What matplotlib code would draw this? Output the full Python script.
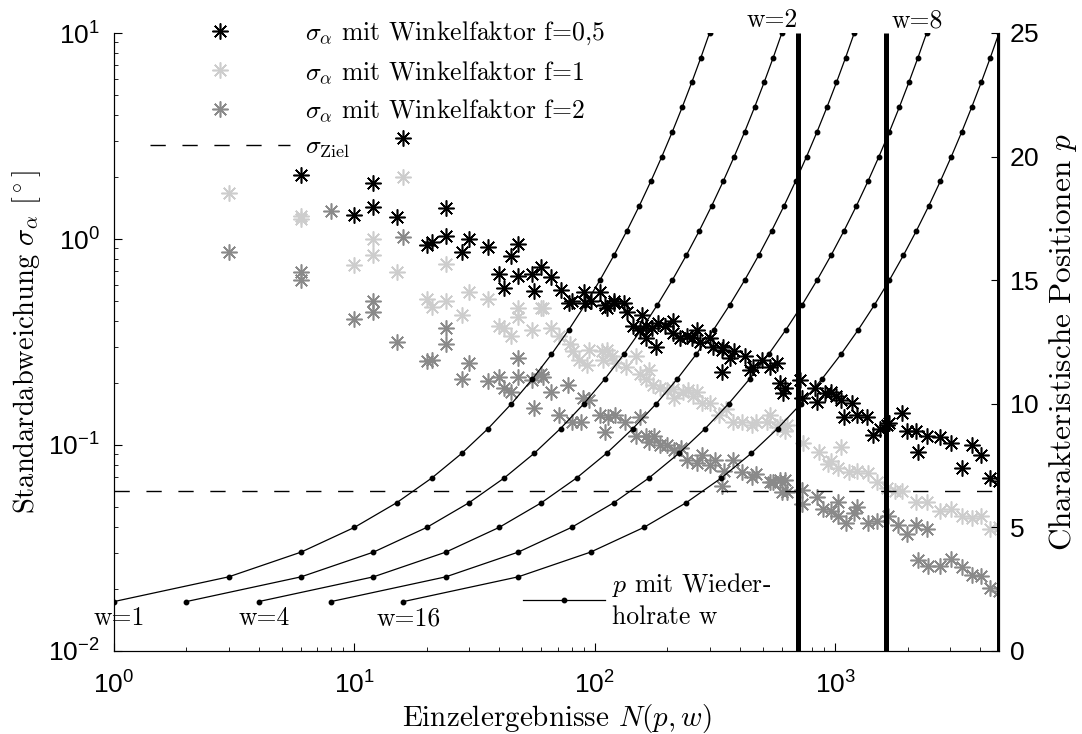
import matplotlib
matplotlib.use('Agg')

import matplotlib.pyplot as plt
import numpy as np

plt.rcParams['font.family'] = 'cmr10'
plt.rcParams['mathtext.fontset'] = 'cm'
plt.rcParams['axes.unicode_minus'] = False
plt.rcParams['axes.formatter.use_mathtext'] = True

# characteristic positions p and pairs of positions for w = 1
positions = list(range(2, 26))
pairs = [1, 3, 6, 10, 15, 21, 28, 36, 45, 55, 66, 78, 91, 105, 120, 136,
         153, 171, 190, 210, 231, 253, 276, 300]
reps = [1, 2, 4, 8, 16]
reps_low = [1, 4, 16]      # labelled at the start of the curve
reps_high = [2, 8]         # labelled at the end of the curve

limits = [700, 1630, 4800]  # thick vertical lines
sigma_goal = 0.06

# sigma_alpha, winkelfaktor f=0.5
bx = [6, 10, 12, 12, 15, 16, 20, 21, 24, 24, 28, 30, 36, 40, 42, 45, 48, 48,
      55, 56, 60, 66, 72, 78, 80, 90, 91, 96, 105, 110, 112, 120, 120, 132,
      136, 144, 154, 157, 164, 164, 173, 180, 183, 195, 211, 211, 226, 241,
      253, 266, 273, 301, 309, 337, 337, 340, 364, 380, 420, 441, 454, 495,
      534, 571, 588, 605, 617, 711, 725, 822, 837, 904, 960, 1010, 1060,
      1090, 1170, 1230, 1350, 1440, 1540, 1640, 1680, 1900, 1980, 2170,
      2200, 2410, 2720, 3040, 3360, 3700, 4040, 4420, 4800]
by = [2.05, 1.31, 1.87, 1.43, 1.28, 3.1, 0.94, 0.97, 1.41, 1.03, 0.86, 1.0,
      0.91, 0.675, 0.58, 0.83, 0.95, 0.66, 0.675, 0.56, 0.73, 0.655, 0.565,
      0.49, 0.5, 0.55, 0.49, 0.5, 0.55, 0.48, 0.46, 0.5, 0.49, 0.49, 0.44,
      0.38, 0.36, 0.43, 0.38, 0.33, 0.37, 0.3, 0.39, 0.38, 0.40, 0.35, 0.33,
      0.34, 0.33, 0.36, 0.318, 0.33, 0.30, 0.29, 0.226, 0.30, 0.264, 0.285,
      0.27, 0.23, 0.24, 0.26, 0.24, 0.25, 0.2, 0.179, 0.19, 0.207, 0.169,
      0.19, 0.162, 0.179, 0.181, 0.173, 0.165, 0.137, 0.16, 0.14, 0.137,
      0.112, 0.12, 0.125, 0.128, 0.143, 0.117, 0.117, 0.092, 0.11, 0.109,
      0.102, 0.077, 0.1, 0.089, 0.069, 0.067]

# sigma_alpha, winkelfaktor f=1
lx = [3, 6, 6, 10, 12, 12, 15, 16, 20, 21, 24, 24, 28, 30, 36, 40, 42, 45,
      48, 48, 55, 60, 61, 66, 71, 79, 81, 86, 93, 95, 107, 108, 112, 118,
      123, 135, 149, 154, 164, 168, 174, 186, 200, 211, 214, 232, 243, 256,
      265, 280, 300, 330, 350, 375, 410, 450, 470, 520, 534, 571, 590, 617,
      630, 735, 860, 930, 960, 1030, 1060, 1140, 1230, 1370, 1490, 1640,
      1780, 1900, 2170, 2410, 2720, 3040, 3360, 3700, 4040, 4420, 4800]
ly = [1.67, 1.3, 1.25, 0.75, 1.0, 0.835, 0.69, 2.0, 0.51, 0.47, 0.76, 0.5,
      0.43, 0.55, 0.51, 0.38, 0.37, 0.34, 0.46, 0.42, 0.36, 0.46, 0.46,
      0.37, 0.34, 0.31, 0.285, 0.26, 0.245, 0.29, 0.285, 0.26, 0.29, 0.27,
      0.25, 0.24, 0.27, 0.22, 0.21, 0.23, 0.195, 0.19, 0.185, 0.186, 0.17,
      0.18, 0.185, 0.173, 0.18, 0.16, 0.16, 0.14, 0.15, 0.13, 0.13, 0.125,
      0.13, 0.13, 0.14, 0.122, 0.126, 0.117, 0.125, 0.102, 0.092, 0.081,
      0.084, 0.077, 0.098, 0.074, 0.075, 0.073, 0.066, 0.062, 0.06, 0.06,
      0.053, 0.053, 0.048, 0.049, 0.045, 0.044, 0.045, 0.039, 0.04]

# sigma_alpha, winkelfaktor f=2
gx = [3, 6, 6, 8, 10, 12, 12, 15, 16, 20, 21, 24, 24, 28, 30, 36, 40, 42,
      45, 48, 48, 55, 56, 60, 61, 66, 71, 77, 80, 88, 89, 95, 105, 110, 113,
      121, 133, 149, 154, 164, 168, 177, 186, 200, 214, 228, 241, 266, 280,
      301, 315, 337, 345, 375, 410, 450, 470, 534, 550, 590, 600, 617, 630,
      725, 725, 837, 890, 960, 1030, 1030, 1110, 1200, 1230, 1370, 1490,
      1660, 1830, 1980, 2170, 2200, 2410, 2430, 2720, 3040, 3360, 3700,
      4040, 4420, 4800]
gy = [0.865, 0.69, 0.63, 1.37, 0.41, 0.5, 0.44, 0.316, 1.02, 0.256, 0.26,
      0.37, 0.31, 0.21, 0.25, 0.205, 0.215, 0.19, 0.18, 0.264, 0.215, 0.207,
      0.152, 0.22, 0.214, 0.18, 0.14, 0.195, 0.13, 0.13, 0.17, 0.166, 0.14,
      0.116, 0.136, 0.14, 0.13, 0.11, 0.136, 0.11, 0.103, 0.11, 0.10, 0.1,
      0.095, 0.097, 0.085, 0.082, 0.089, 0.08, 0.085, 0.063, 0.075, 0.085,
      0.074, 0.07, 0.072, 0.066, 0.066, 0.068, 0.059, 0.068, 0.059, 0.0605,
      0.052, 0.056, 0.049, 0.048, 0.053, 0.045, 0.042, 0.047, 0.05, 0.042,
      0.043, 0.045, 0.041, 0.037, 0.041, 0.0277, 0.039, 0.026, 0.026, 0.028,
      0.0255, 0.0235, 0.023, 0.0202, 0.0195]

W, H = 1082, 734
fig = plt.figure(figsize=(W / 100, H / 100), dpi=100)
ax = fig.add_axes([114 / W, 83 / H, 885 / W, 618 / H])
ax2 = ax.twinx()

star = (8, 2, 0)
skw = dict(ls='none', marker=star, ms=11.5, mew=1.15)
ax.plot(gx, gy, color='#8a8a8a', label=r'$\sigma_\alpha$ mit Winkelfaktor f=2', **skw)
ax.plot(lx, ly, color='#cdcdcd', label=r'$\sigma_\alpha$ mit Winkelfaktor f=1', **skw)
ax.plot(bx, by, color='black', label=r'$\sigma_\alpha$ mit Winkelfaktor f=0,5', **skw)
ax.axhline(sigma_goal, color='black', lw=1, ls=(0, (11, 12)),
           label=r'$\sigma_{\mathrm{Ziel}}$')

ax.set_xscale('log')
ax.set_yscale('log')
ax.set_xlim(1, 4800)
ax.set_ylim(1e-2, 1e1)

fs = 18.5

# p over N(p, w)
curves = []
for w in reps:
    n = np.array(pairs) * w
    ln, = ax2.plot(n, positions, color='black', lw=0.9, marker='o', ms=3.2,
                   label='$p$ mit Wieder-\nholrate w')
    curves.append(ln)
    if w in reps_low:
        ax2.annotate('w=%d' % w, xy=(n[0], positions[0]), xytext=(4, -12),
                     textcoords='offset points', ha='center', va='center',
                     fontsize=fs)
    if w in reps_high:
        ax2.annotate('w=%d' % w, xy=(n[-1], positions[-1]), xytext=(-7, 9),
                     textcoords='offset points', ha='center', va='center',
                     fontsize=fs)

ax2.vlines(limits, 0, 25, colors='black', lw=3.6)
ax2.set_ylim(0, 25)
ax2.set_yticks([0, 5, 10, 15, 20, 25])

for a in (ax, ax2):
    a.spines['top'].set_visible(False)
    a.tick_params(which='both', direction='in', labelsize=19,
                  labelfontfamily='Liberation Sans')
    a.tick_params(which='major', length=6)
    a.tick_params(which='minor', length=3)
ax.tick_params(axis='x', pad=15)
ax.tick_params(axis='y', pad=10)
ax2.tick_params(axis='y', pad=7)

ax.set_xlabel('Einzelergebnisse $N(p,w)$', fontsize=21, labelpad=2)
ax.set_ylabel(r'Standardabweichung $\sigma_\alpha$ $[^\circ]$', fontsize=20.5,
              labelpad=4)
ax2.set_ylabel('Charakteristische Positionen $p$', fontsize=22.5, labelpad=6)

h, l = ax.get_legend_handles_labels()
order = [2, 1, 0, 3]
ax.legend([h[i] for i in order], [l[i] for i in order], loc='upper left',
          bbox_to_anchor=(0.0407, 1.021), frameon=False, fontsize=fs,
          handlelength=5.45, handletextpad=0.58, labelspacing=0.44,
          borderpad=0, borderaxespad=0, numpoints=1)

leg2 = ax2.legend([curves[0]], [curves[0].get_label()], loc='center left',
                  bbox_to_anchor=(0.462, 0.0825), frameon=False, fontsize=fs,
                  handlelength=3.2, handletextpad=0.27, borderpad=0,
                  borderaxespad=0)
for t in leg2.get_texts():
    t.set_linespacing(1.3)

fig.savefig('out.png', dpi=100)
